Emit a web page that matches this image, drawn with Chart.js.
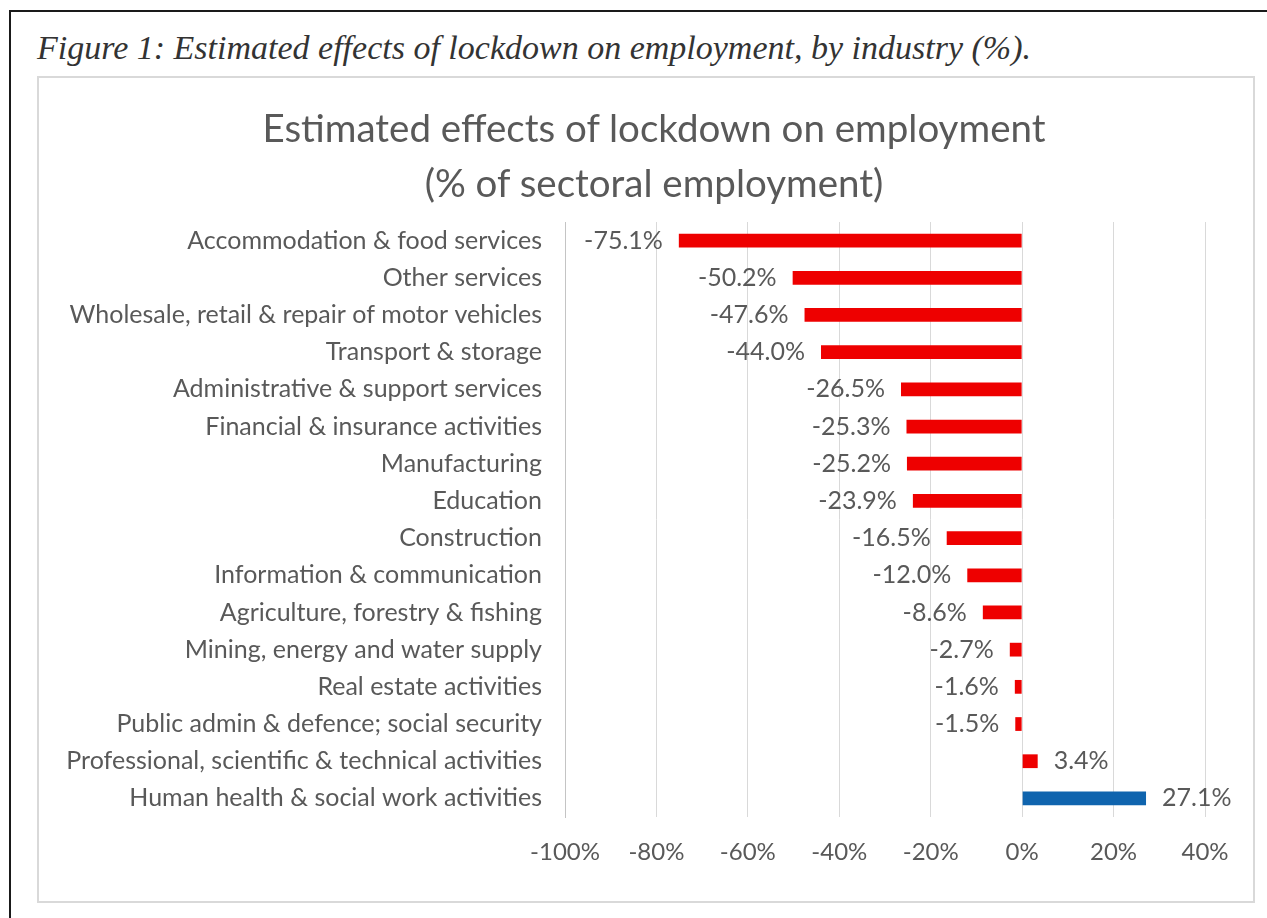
<!DOCTYPE html>
<html lang="en">
<head>
    <meta charset="UTF-8">
    <title>Estimated effects of lockdown on employment</title>
    <script src="https://cdn.jsdelivr.net/npm/chart.js@4.4.1/dist/chart.umd.min.js"></script>
    <style>
        html, body { margin: 0; padding: 0; background: #fff; }
        body { width: 1267px; height: 918px; position: relative; overflow: hidden; }
        .frame {
            position: absolute; left: 9px; top: 10px; width: 1300px; height: 960px;
            border-top: 2px solid #1a1a1a; border-left: 2px solid #1a1a1a;
        }
        .caption {
            position: absolute; left: 37px; top: 31px;
            font-family: 'Liberation Serif', serif; font-style: italic;
            font-size: 34px; line-height: 34px; color: #333; white-space: nowrap;
        }
        .chart-box {
            position: absolute; left: 37px; top: 76px; width: 1218px; height: 827px;
            box-sizing: border-box; border: 2px solid #d9d9d9; background: #fff;
        }
        .chart-title {
            position: absolute; left: 0; top: 22px; width: 1230px; text-align: center;
            font-family: Lato, sans-serif; font-size: 38.5px; line-height: 55px; color: #595959;
        }
        .chart-wrap { position: absolute; left: 0; top: 0; width: 1214px; height: 823px; }
    </style>
</head>
<body>
    <div class="frame"></div>
    <div class="caption">Figure 1: Estimated effects of lockdown on employment, by industry (%).</div>
    <div class="chart-box">
        <div class="chart-wrap"><canvas id="effectsChart"></canvas></div>
        <div class="chart-title">Estimated effects of lockdown on employment<br>(% of sectoral employment)</div>
    </div>

    <script>
        const industries = [
            'Accommodation & food services',
            'Other services',
            'Wholesale, retail & repair of motor vehicles',
            'Transport & storage',
            'Administrative & support services',
            'Financial & insurance activities',
            'Manufacturing',
            'Education',
            'Construction',
            'Information & communication',
            'Agriculture, forestry & fishing',
            'Mining, energy and water supply',
            'Real estate activities',
            'Public admin & defence; social security',
            'Professional, scientific & technical activities',
            'Human health & social work activities'
        ];
        const effects = [-75.1, -50.2, -47.6, -44.0, -26.5, -25.3, -25.2, -23.9, -16.5, -12.0, -8.6, -2.7, -1.6, -1.5, 3.4, 27.1];
        const xTicks = [-100, -80, -60, -40, -20, 0, 20, 40];

        const highlighted = 'Human health & social work activities';
        const RED = '#EE0000';
        const BLUE = '#0F64AE';
        const TEXT = '#595959';
        const FONT = 'Lato';

        // writes each bar's value just past its outer end
        const valueLabels = {
            id: 'valueLabels',
            afterDatasetsDraw(chart) {
                const ctx = chart.ctx;
                const meta = chart.getDatasetMeta(0);
                ctx.save();
                ctx.font = '25px ' + FONT;
                ctx.fillStyle = TEXT;
                ctx.textBaseline = 'middle';
                meta.data.forEach((bar, i) => {
                    const v = effects[i];
                    const neg = v < 0;
                    ctx.textAlign = neg ? 'right' : 'left';
                    ctx.fillText(v.toFixed(1) + '%', bar.x + (neg ? -16 : 16), bar.y);
                });
                ctx.restore();
            }
        };

        new Chart(document.getElementById('effectsChart'), {
            type: 'bar',
            data: {
                labels: industries,
                datasets: [{
                    data: effects,
                    backgroundColor: ctx => industries[ctx.dataIndex] === highlighted ? BLUE : RED,
                    barPercentage: 0.37,
                    categoryPercentage: 1.0
                }]
            },
            options: {
                indexAxis: 'y',
                responsive: true,
                maintainAspectRatio: false,
                animation: false,
                // room above the plot is taken by the html title
                layout: { padding: { left: 0, right: 48, top: 144, bottom: 0 } },
                scales: {
                    x: {
                        type: 'linear',
                        min: -100,
                        max: 40,
                        afterBuildTicks: scale => { scale.ticks = xTicks.map(v => ({ value: v })); },
                        afterFit: scale => { scale.height = 84; },
                        ticks: {
                            callback: v => v + '%',
                            color: TEXT,
                            font: { family: FONT, size: 24 },
                            padding: 21
                        },
                        grid: { color: '#d9d9d9', lineWidth: 1, drawTicks: false },
                        border: { display: false }
                    },
                    y: {
                        afterFit: scale => { scale.width = 526; },
                        ticks: {
                            color: TEXT,
                            font: { family: FONT, size: 25 },
                            padding: 23,
                            autoSkip: false
                        },
                        grid: { display: false, drawTicks: false },
                        border: { display: true, color: '#c4c4c4', width: 1 }
                    }
                },
                plugins: {
                    legend: { display: false },
                    tooltip: { enabled: false },
                    title: { display: false }
                }
            },
            plugins: [valueLabels]
        });
    </script>
</body>
</html>
